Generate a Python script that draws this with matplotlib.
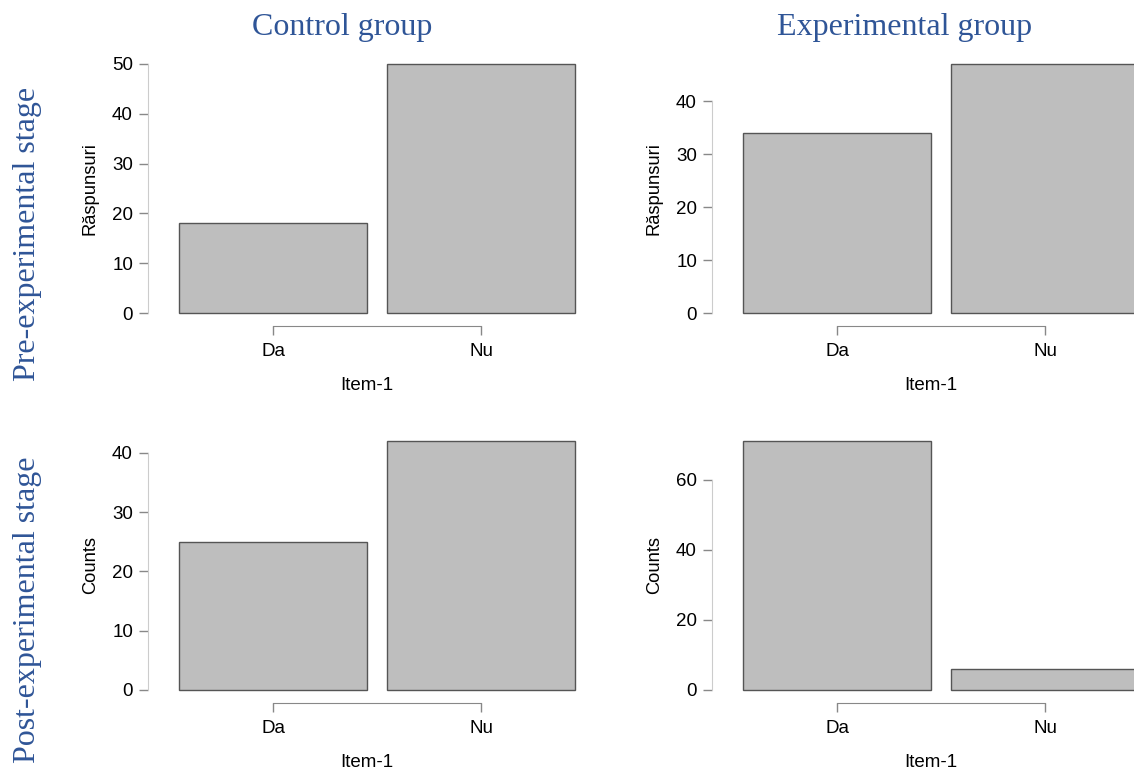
import matplotlib.pyplot as plt

categories = ['Da', 'Nu']
control_pre = [18, 50]
exp_pre = [34, 47]
control_post = [25, 42]
exp_post = [71, 6]

col_titles = ['Control group', 'Experimental group']
row_titles = ['Pre-experimental stage', 'Post-experimental stage']
row_ylabels = ['Răspunsuri', 'Counts']
xlabel = 'Item-1'

yticks = {
    (0, 0): [0, 10, 20, 30, 40, 50],
    (0, 1): [0, 10, 20, 30, 40],
    (1, 0): [0, 10, 20, 30, 40],
    (1, 1): [0, 20, 40, 60],
}
data = {(0, 0): control_pre, (0, 1): exp_pre,
        (1, 0): control_post, (1, 1): exp_post}

plt.rcParams['font.family'] = ['Liberation Sans', 'DejaVu Sans']
blue = '#2F5597'

fig = plt.figure(figsize=(11.34, 7.69), dpi=100)
W, H = 1134, 769

lefts = [148, 712]
tops = [64, 441]
ah = 249
px_per_unit = 208
x0 = -0.601
x1 = 1.5

for r in range(2):
    for c in range(2):
        vals = data[(r, c)]
        left = lefts[c]
        aw = (x1 - x0) * px_per_unit
        ax = fig.add_axes([left / W, (H - tops[r] - ah) / H, aw / W, ah / H])
        ax.bar(range(len(categories)), vals, width=0.9, color='#BEBEBE',
               edgecolor='#555555', linewidth=1.0, clip_on=False)
        ax.set_xlim(x0, x1)
        ax.set_ylim(0, max(vals))
        for s in ['top', 'right']:
            ax.spines[s].set_visible(False)
        ax.spines['left'].set_color('#CCCCCC')
        ax.spines['left'].set_bounds(0, yticks[(r, c)][-1])
        ax.spines['bottom'].set_position(('outward', 9.4))
        ax.spines['bottom'].set_bounds(0, 1)
        ax.spines['bottom'].set_color('#888888')
        ax.set_yticks(yticks[(r, c)])
        ax.set_xticks(range(len(categories)))
        ax.set_xticklabels(categories)
        ax.tick_params(axis='y', length=6.5, width=1, color='#888888',
                       labelsize=13.5, pad=4.3)
        ax.tick_params(axis='x', direction='out', length=6.5, width=1,
                       color='#888888', labelsize=13.5, pad=6)
        ax.set_ylabel(row_ylabels[r], fontsize=13.2, labelpad=9.5)
        ax.set_xlabel(xlabel, fontsize=13.5, labelpad=12)

for c, t in enumerate(col_titles):
    cx = [342, 905][c]
    fig.text(cx / W, 1 - 28 / H, t, ha='center', va='center', fontsize=23,
             color=blue, family='Liberation Serif')

for r, t in enumerate(row_titles):
    cy = [234, 610][r]
    fig.text(28 / W, 1 - cy / H, t, ha='center', va='center', fontsize=23,
             color=blue, family='Liberation Serif', rotation=90)

fig.savefig('out.png', dpi=100)
